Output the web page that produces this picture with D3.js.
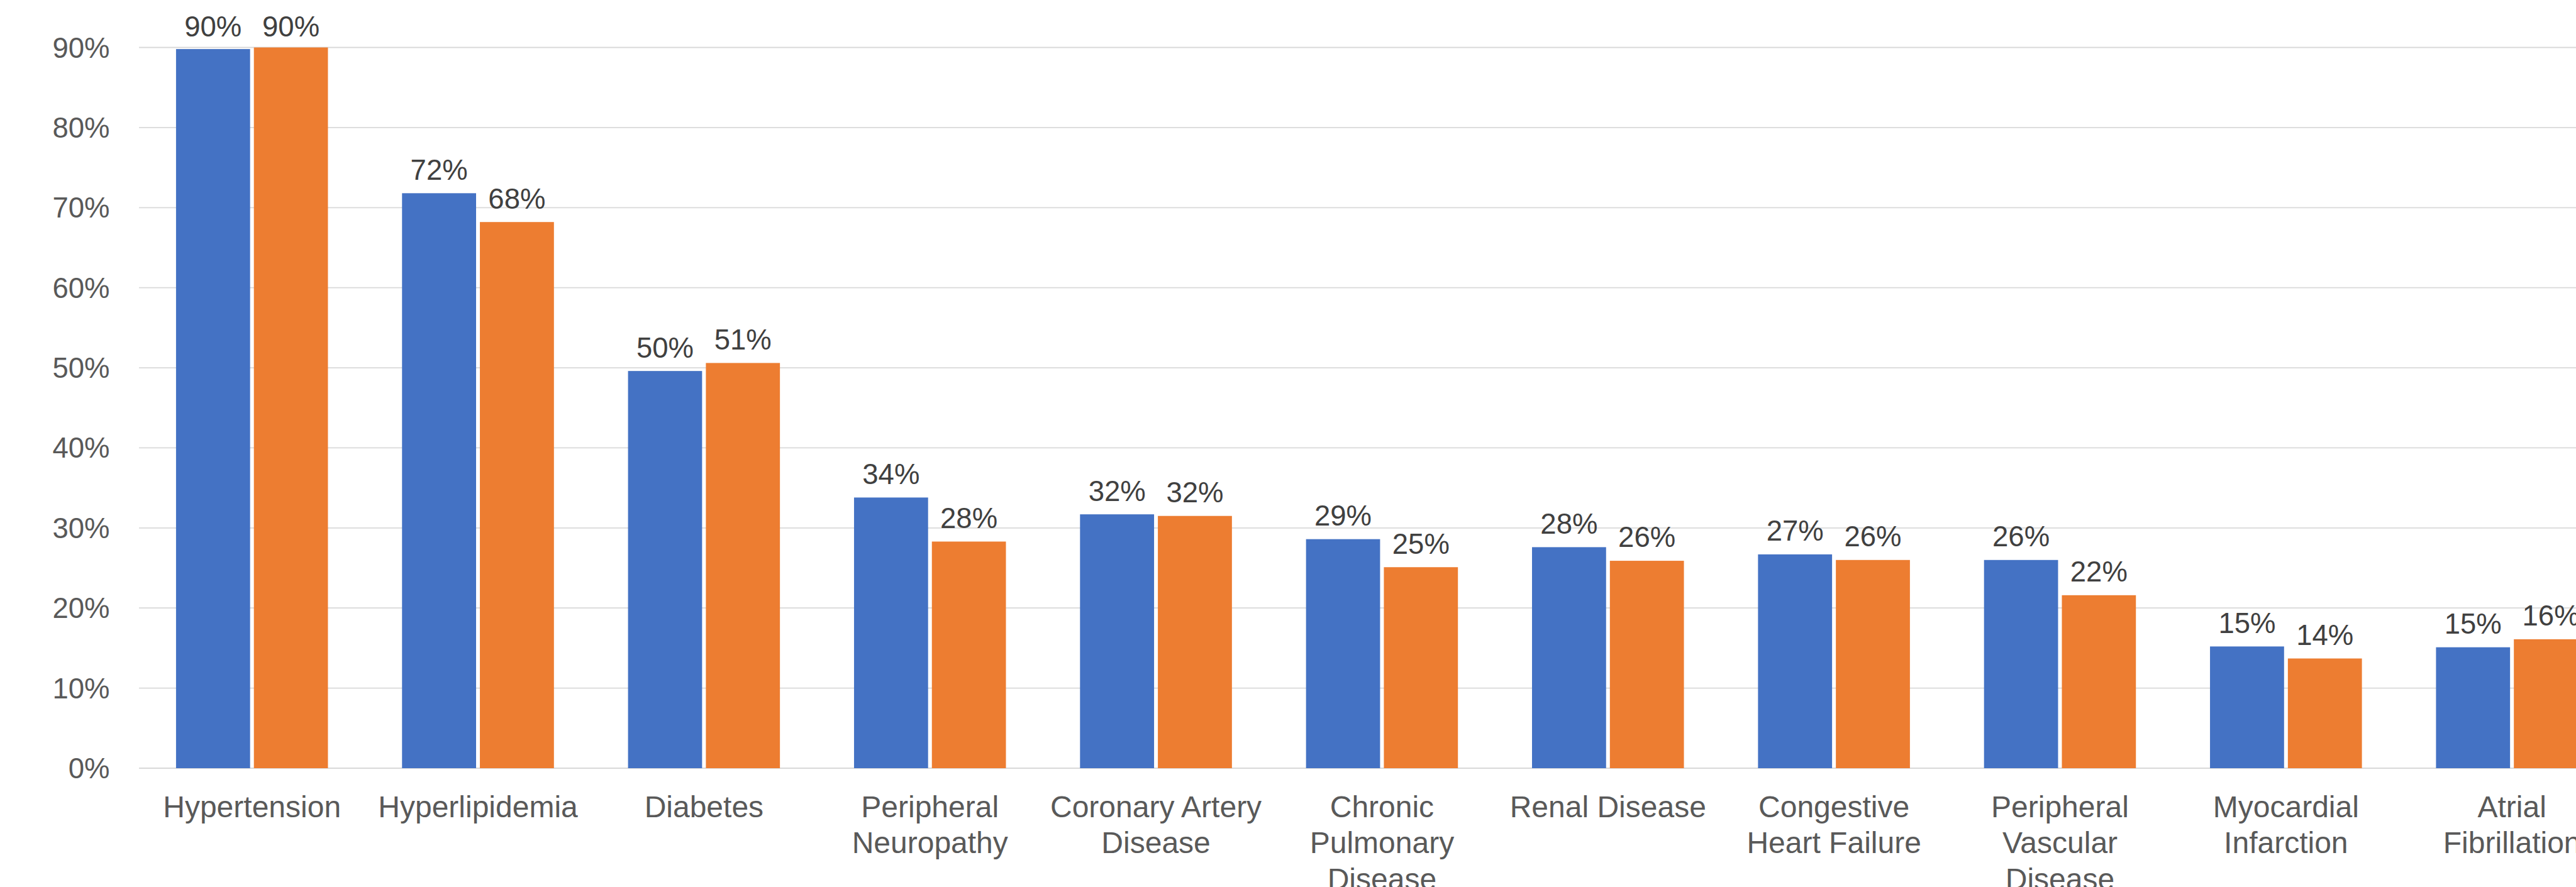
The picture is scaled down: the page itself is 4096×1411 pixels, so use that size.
<!DOCTYPE html>
<html>
<head>
<meta charset="utf-8">
<script src="https://cdn.jsdelivr.net/npm/d3@7"></script>
<style>
  html, body { margin: 0; padding: 0; background: #ffffff; overflow: hidden; }
  svg { display: block; }
</style>
</head>
<body>
<svg id="chart" width="4096" height="1411"></svg>
<script>
// ---- data ----
const categories = [
  "Hypertension", "Hyperlipidemia", "Diabetes", "Peripheral Neuropathy",
  "Coronary Artery Disease", "Chronic Pulmonary Disease", "Renal Disease",
  "Congestive Heart Failure", "Peripheral Vascular Disease",
  "Myocardial Infarction", "Atrial Fibrillation"
];
const categoryLines = [
  ["Hypertension"], ["Hyperlipidemia"], ["Diabetes"], ["Peripheral", "Neuropathy"],
  ["Coronary Artery", "Disease"], ["Chronic", "Pulmonary", "Disease"], ["Renal Disease"],
  ["Congestive", "Heart Failure"], ["Peripheral", "Vascular", "Disease"],
  ["Myocardial", "Infarction"], ["Atrial", "Fibrillation"]
];
const seriesNames = ["Series A", "Series B"];
const seriesA = [89.8, 71.8, 49.6, 33.8, 31.7, 28.6, 27.6, 26.7, 26.0, 15.2, 15.1];
const seriesB = [90.0, 68.2, 50.6, 28.3, 31.5, 25.1, 25.9, 26.0, 21.6, 13.7, 16.1];
const seriesColors = ["#4472C4", "#ED7D31"];
const yTicks = [0, 10, 20, 30, 40, 50, 60, 70, 80, 90];

// ---- layout (scaled 0.863 from reference) ----
const plotLeft = 221.0;
const step = 359.35;
const y0 = 1222.0, yTop = 75.5;
const fontFamily = "'Liberation Sans', Arial, sans-serif";
const fontSize = 45.5;
const catFontSize = 48;

const svg = d3.select("#chart");

const x0 = d3.scaleBand()
  .domain(categories)
  .range([plotLeft, plotLeft + step * categories.length])
  .paddingInner(0).paddingOuter(0);

// Excel-like: gap width 100%, overlap -5%
const barW = step / 3.05;
const groupW = barW * 2.05;
const x1 = d3.scaleBand()
  .domain(seriesNames)
  .range([(step - groupW) / 2, (step + groupW) / 2])
  .paddingInner(0.05 / 1.025)
  .paddingOuter(0);

const y = d3.scaleLinear().domain([0, 90]).range([y0, yTop]);

// gridlines
svg.append("g")
  .selectAll("line")
  .data(yTicks)
  .join("line")
  .attr("x1", plotLeft)
  .attr("x2", 4096)
  .attr("y1", d => y(d))
  .attr("y2", d => y(d))
  .attr("stroke", "#d9d9d9")
  .attr("stroke-width", 1.8);

// y axis labels
const yAxis = d3.axisLeft(y).tickValues(yTicks).tickFormat(d => d + "%").tickSize(0).tickPadding(0);
const yg = svg.append("g").attr("transform", `translate(174.5,0)`).call(yAxis);
yg.select(".domain").remove();
yg.selectAll("text")
  .attr("font-family", fontFamily)
  .attr("font-size", fontSize)
  .attr("fill", "#595959")
  .attr("dy", null)
  .attr("dominant-baseline", "auto")
  .attr("y", 15.5);

// bars
const rows = categories.map((c, i) => ({ cat: c, vals: [seriesA[i], seriesB[i]] }));
const groups = svg.append("g")
  .selectAll("g")
  .data(rows)
  .join("g")
  .attr("transform", d => `translate(${x0(d.cat)},0)`);

groups.selectAll("rect")
  .data(d => d.vals.map((v, j) => ({ s: seriesNames[j], v, j })))
  .join("rect")
  .attr("x", d => x1(d.s))
  .attr("width", x1.bandwidth())
  .attr("y", d => y(d.v))
  .attr("height", d => y0 - y(d.v))
  .attr("fill", d => seriesColors[d.j]);

// data labels
groups.selectAll("text.val")
  .data(d => d.vals.map((v, j) => ({ s: seriesNames[j], v, j })))
  .join("text")
  .attr("class", "val")
  .attr("x", d => x1(d.s) + x1.bandwidth() / 2)
  .attr("y", d => Math.max(y(d.v) - 21.6, 58))
  .attr("text-anchor", "middle")
  .attr("font-family", fontFamily)
  .attr("font-size", fontSize)
  .attr("fill", "#404040")
  .text(d => Math.round(d.v) + "%");

// category labels
const lineH = 57.3;
const catG = svg.append("g")
  .selectAll("text")
  .data(categories)
  .join("text")
  .attr("x", d => x0(d) + x0.bandwidth() / 2)
  .attr("y", 1300)
  .attr("text-anchor", "middle")
  .attr("font-family", fontFamily)
  .attr("font-size", catFontSize)
  .attr("fill", "#595959");
catG.each(function(d, i) {
  d3.select(this).selectAll("tspan")
    .data(categoryLines[i])
    .join("tspan")
    .attr("x", x0(d) + x0.bandwidth() / 2)
    .attr("dy", (t, k) => k === 0 ? 0 : lineH)
    .text(t => t);
});
</script>
</body>
</html>
